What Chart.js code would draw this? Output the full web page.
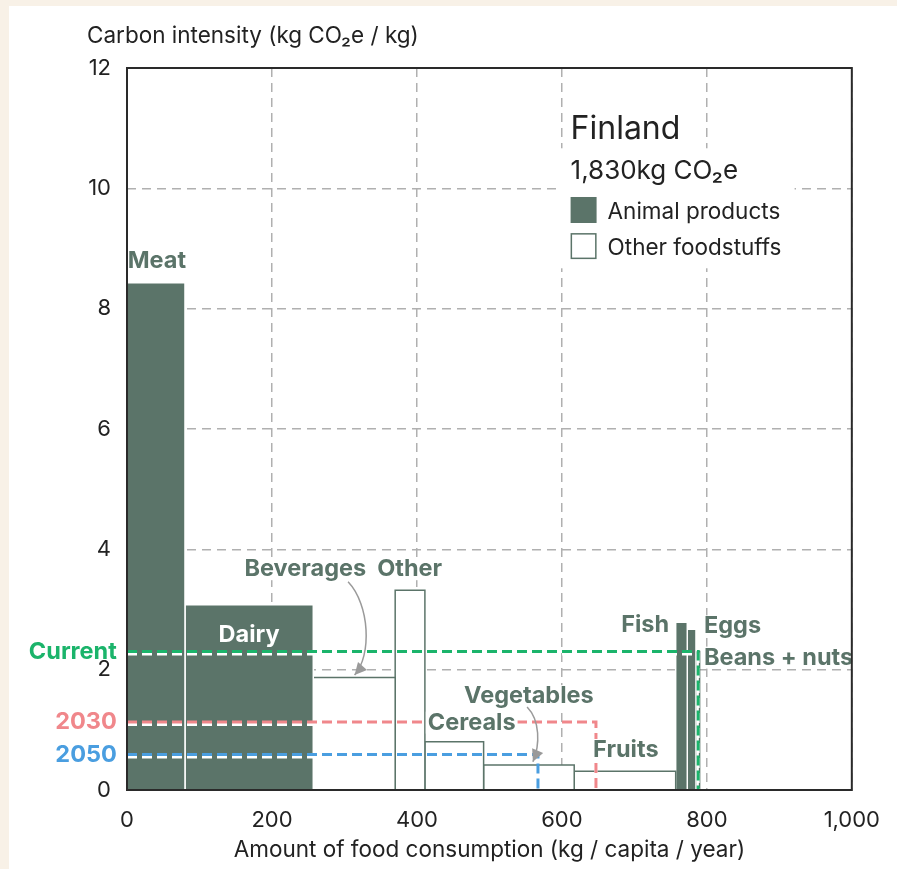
<!DOCTYPE html>
<html><head><meta charset="utf-8">
<script src="https://cdn.jsdelivr.net/npm/chart.js@4"></script>
<style>html,body{margin:0;padding:0;background:#f8f1e7;}canvas{display:block}</style>
</head><body>
<canvas id="c" width="897" height="869"></canvas>
<script>
// ---- data ----
const categories = ['Meat','Dairy','Beverages','Other','Cereals','Vegetables','Fruits','Fish','Eggs','Beans + nuts'];
const amounts = [80,177,113,41,81,125,140,16,12,5];            // kg / capita / year
const intensities = [8.43,3.08,1.87,3.32,0.80,0.415,0.31,2.79,2.67,2.3]; // kg CO2e / kg
const isAnimal = [true,true,false,false,false,false,false,true,true,false];
const scenarioNames = ['Current','2030','2050'];
const scenarioIntensity = [2.30,1.13,0.59];
const scenarioAmount = [788,647,567];
const xTicks = [0,200,400,600,800,1000];
const yTicks = [0,2,4,6,8,10,12];
const country = 'Finland';
const totalLabel = '1,830kg CO\u2082e';
const legendLabels = ['Animal products','Other foodstuffs'];
const yTitle = 'Carbon intensity (kg CO\u2082e / kg)';
const xTitle = 'Amount of food consumption (kg / capita / year)';

// ---- styles ----
const DARK = '#5b7469';
const INK = '#222222';
const GRID = '#b0b0b0';
const scenarioColors = ['#1bb46b','#f0878b','#4a9ee0'];
const FONT = 'Inter, "Noto Sans", sans-serif';

// label anchors in data coordinates
const labelAnchors = {
  'Meat': {x:1, y:8.8, align:'left'},
  'Dairy': {x:null, y:2.58, align:'center', color:'#ffffff', bg:false},
  'Beverages': {x:330, y:3.67, align:'right'},
  'Other': {x:390, y:3.67, align:'center'},
  'Cereals': {x:415, y:1.12, align:'left'},
  'Vegetables': {x:465, y:1.56, align:'left'},
  'Fruits': {x:643, y:0.665, align:'left'},
  'Fish': {x:748, y:2.74, align:'right'},
  'Eggs': {x:796, y:2.72, align:'left'},
  'Beans + nuts': {x:796, y:2.2, align:'left'}
};
const arrows = [
  [[305,3.46],[335,3.08],[338,2.24],[314,1.91]],
  [[552,1.38],[570,1.16],[570,0.75],[560,0.47]]
];

// ---- build datasets ----
const starts = [], ends = [];
let cum = 0;
amounts.forEach(a => { starts.push(cum); cum += a; ends.push(cum); });

const scenarioSets = scenarioNames.map((n,i) => ({
  label: n, isScenario: true, order: 0,
  data: [{x:0,y:scenarioIntensity[i]},{x:scenarioAmount[i],y:scenarioIntensity[i]},{x:scenarioAmount[i],y:0}],
  borderColor: scenarioColors[i], borderWidth: 3, borderDash: [10,5],
  fill: false, pointRadius: 0, tension: 0
}));
const barSets = categories.map((name,i) => ({
  label: name, order: 1,
  data: [{x:starts[i],y:0},{x:starts[i],y:intensities[i]},{x:ends[i],y:intensities[i]},{x:ends[i],y:0}],
  borderColor: isAnimal[i] ? '#ffffff' : DARK,
  backgroundColor: isAnimal[i] ? DARK : '#ffffff',
  borderWidth: 1.5, fill: 'origin', pointRadius: 0, tension: 0
}));

const PX = (c,v) => c.scales.x.getPixelForValue(v);
const PY = (c,v) => c.scales.y.getPixelForValue(v);

function labelBox(ctx, text, x, y, align, font){
  ctx.font = font;
  const w = ctx.measureText(text).width;
  const left = align==='left' ? x : (align==='right' ? x - w : x - w/2);
  return {left, w};
}

const decor = {
  id: 'decor',
  beforeDraw(c){
    const ctx = c.ctx; ctx.save();
    ctx.fillStyle = '#f8f1e7'; ctx.fillRect(0,0,c.width,c.height);
    ctx.fillStyle = '#ffffff'; ctx.fillRect(9,6,c.width-9,c.height-6);
    ctx.restore();
  },
  beforeDatasetDraw(c,args){
    if (c.data.datasets[args.index].isScenario){
      c.ctx.save(); c.ctx.shadowColor='#ffffff'; c.ctx.shadowOffsetY=2.5; c.ctx.shadowBlur=0;
    }
  },
  afterDatasetDraw(c,args){
    if (c.data.datasets[args.index].isScenario) c.ctx.restore();
  },
  afterDatasetsDraw(c){
    const ctx = c.ctx, a = c.chartArea;
    ctx.save();
    const bold = 'bold 23.5px ' + FONT;
    const items = categories.map((name,i) => {
      const s = labelAnchors[name];
      const xv = s.x === null ? (starts[i]+ends[i])/2 : s.x;
      return {text:name, x:PX(c,xv), y:PY(c,s.y), align:s.align, color:s.color||DARK, bg:s.bg!==false};
    });
    // backgrounds
    items.forEach(it => {
      if (!it.bg) return;
      const b = labelBox(ctx, it.text, it.x, it.y, it.align, bold);
      ctx.fillStyle = '#ffffff';
      ctx.fillRect(b.left-2, it.y-11, b.w+4, 22);
    });
    // arrows
    ctx.strokeStyle = '#9a9a9a'; ctx.fillStyle = '#9a9a9a'; ctx.lineWidth = 1.5;
    arrows.forEach(ar => {
      const p = ar.map(q => [PX(c,q[0]), PY(c,q[1])]);
      ctx.beginPath(); ctx.moveTo(p[0][0],p[0][1]);
      ctx.bezierCurveTo(p[1][0],p[1][1],p[2][0],p[2][1],p[3][0],p[3][1]); ctx.stroke();
      const ang = Math.atan2(p[3][1]-p[2][1], p[3][0]-p[2][0]);
      const L = 12, W = 6;
      const tx = p[3][0], ty = p[3][1];
      ctx.beginPath(); ctx.moveTo(tx,ty);
      ctx.lineTo(tx - L*Math.cos(ang) + W*Math.sin(ang), ty - L*Math.sin(ang) - W*Math.cos(ang));
      ctx.lineTo(tx - L*Math.cos(ang) - W*Math.sin(ang), ty - L*Math.sin(ang) + W*Math.cos(ang));
      ctx.closePath(); ctx.fill();
    });
    // texts
    ctx.font = bold; ctx.textBaseline = 'middle';
    items.forEach(it => { ctx.fillStyle = it.color; ctx.textAlign = it.align; ctx.fillText(it.text, it.x, it.y); });

    // legend block
    const lx = PX(c,612);
    const fy = PY(c,11.0), ty2 = PY(c,10.3), s1 = PY(c,9.64), s2 = PY(c,9.04);
    ctx.font = '32px ' + FONT;
    const fw = ctx.measureText(country).width;
    ctx.fillStyle = '#ffffff';
    ctx.fillRect(lx-6, fy-19, fw+12, 38);
    ctx.fillRect(lx-14, ty2-22, 238, 120);
    ctx.fillStyle = INK; ctx.textAlign = 'left'; ctx.textBaseline = 'middle';
    ctx.fillText(country, lx, fy+1);
    ctx.font = '26px ' + FONT; ctx.fillText(totalLabel, lx, ty2+1);
    ctx.fillStyle = DARK; ctx.fillRect(lx, s1-13, 26, 26);
    ctx.strokeStyle = DARK; ctx.lineWidth = 1.5; ctx.strokeRect(lx+0.75, s2-12.25, 24.5, 24.5);
    ctx.fillStyle = INK; ctx.font = '22.5px ' + FONT;
    ctx.fillText(legendLabels[0], lx+37, s1+2);
    ctx.fillText(legendLabels[1], lx+37, s2+2);

    // frame
    ctx.strokeStyle = '#2a2a2a'; ctx.lineWidth = 2;
    ctx.strokeRect(a.left, a.top, a.right-a.left, a.bottom-a.top);
    ctx.restore();
  },
  afterDraw(c){
    const ctx = c.ctx, a = c.chartArea;
    ctx.save();
    ctx.font = 'bold 23.5px ' + FONT; ctx.textAlign = 'right'; ctx.textBaseline = 'middle';
    scenarioNames.forEach((n,i) => {
      ctx.fillStyle = scenarioColors[i];
      ctx.fillText(n, PX(c,-14), PY(c,scenarioIntensity[i]));
    });
    ctx.fillStyle = INK; ctx.font = '22.5px ' + FONT;
    ctx.textAlign = 'left'; ctx.fillText(yTitle, 87, 36);
    ctx.textAlign = 'center'; ctx.fillText(xTitle, (a.left+a.right)/2, 850);
    ctx.restore();
  }
};

new Chart(document.getElementById('c'), {
  type: 'line',
  data: { datasets: [...scenarioSets, ...barSets] },
  options: {
    responsive: false, animation: false, devicePixelRatio: 1,
    layout: { padding: { left: 0, top: 68, right: 45, bottom: 0 } },
    plugins: { legend: {display:false}, tooltip: {enabled:false} },
    scales: {
      x: {
        type: 'linear', min: 0, max: 1000,
        afterBuildTicks: s => { s.ticks = xTicks.map(v => ({value:v})); },
        afterFit: s => { s.height = 79; },
        ticks: { color: INK, font: {family: FONT, size: 22}, padding: 17,
                 callback: v => Number(v).toLocaleString('en-US') },
        grid: { color: GRID, lineWidth: 1.5, drawTicks: false },
        border: { display: false, dash: [9,6] }
      },
      y: {
        type: 'linear', min: 0, max: 12,
        afterBuildTicks: s => { s.ticks = yTicks.map(v => ({value:v})); },
        afterFit: s => { s.width = 127; },
        ticks: { color: INK, font: {family: FONT, size: 22}, padding: 16 },
        grid: { color: GRID, lineWidth: 1.5, drawTicks: false },
        border: { display: false, dash: [9,6] }
      }
    }
  },
  plugins: [decor]
});
</script>
</body></html>
